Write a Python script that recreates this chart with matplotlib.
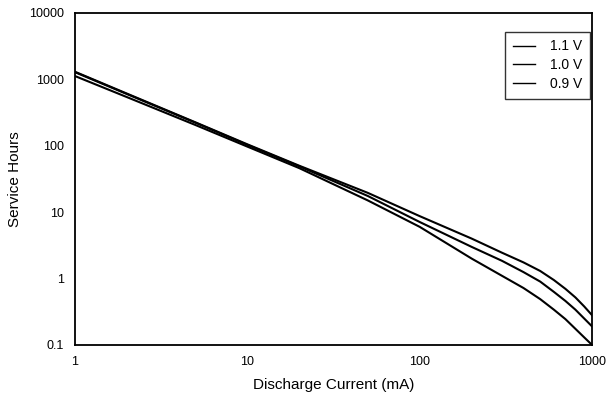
import matplotlib.pyplot as plt
from matplotlib.ticker import FixedLocator, FixedFormatter, NullLocator

plt.rcParams['font.family'] = ['Liberation Sans', 'DejaVu Sans']

current_ma = [1, 2, 5, 10, 20, 50, 100, 200, 300, 400, 500, 600, 700, 800, 900, 1000]
hours_1v1 = [1120, 540, 205, 97, 46, 15, 6.0, 2.0, 1.1, 0.72, 0.49, 0.34, 0.245, 0.175, 0.13, 0.1]
hours_1v0 = [1280, 600, 222, 103, 49, 17.5, 7.1, 3.0, 1.85, 1.25, 0.9, 0.63, 0.46, 0.34, 0.25, 0.19]
hours_0v9 = [1300, 610, 225, 105, 50, 19.5, 8.7, 4.0, 2.45, 1.75, 1.3, 0.95, 0.7, 0.52, 0.38, 0.28]

x_ticks = [1, 10, 100, 1000]
y_ticks = [0.1, 1, 10, 100, 1000, 10000]
y_tick_labels = ['0.1', '1', '10', '100', '1000', '10000']

fig = plt.figure(figsize=(6.12, 4.03), dpi=100)
ax = fig.add_axes([0.1225, 0.144, 0.845, 0.824])

ax.plot(current_ma, hours_1v1, color='black', linewidth=1.5, label='1.1 V')
ax.plot(current_ma, hours_1v0, color='black', linewidth=1.5, label='1.0 V')
ax.plot(current_ma, hours_0v9, color='black', linewidth=1.5, label='0.9 V')

ax.set_xscale('log')
ax.set_yscale('log')
ax.set_xlim(1, 1000)
ax.set_ylim(0.1, 10000)

ax.xaxis.set_major_locator(FixedLocator(x_ticks))
ax.xaxis.set_major_formatter(FixedFormatter([str(v) for v in x_ticks]))
ax.xaxis.set_minor_locator(NullLocator())
ax.yaxis.set_major_locator(FixedLocator(y_ticks))
ax.yaxis.set_major_formatter(FixedFormatter(y_tick_labels))
ax.yaxis.set_minor_locator(NullLocator())
ax.tick_params(length=0, labelsize=9, pad=8)

for s in ax.spines.values():
    s.set_linewidth(1.3)

ax.set_xlabel('Discharge Current (mA)', fontsize=11, labelpad=7)
ax.set_ylabel('Service Hours', fontsize=11, labelpad=5)

leg = ax.legend(loc='upper right', bbox_to_anchor=(0.996, 0.943), borderaxespad=0,
                fontsize=10, handlelength=1.6, frameon=True, fancybox=False,
                edgecolor='black', labelspacing=0.35, handletextpad=1.1,
                borderpad=0.55)
leg.get_frame().set_linewidth(1.0)
for line in leg.get_lines():
    line.set_linewidth(1.0)

plt.savefig('out.png', dpi=100)
